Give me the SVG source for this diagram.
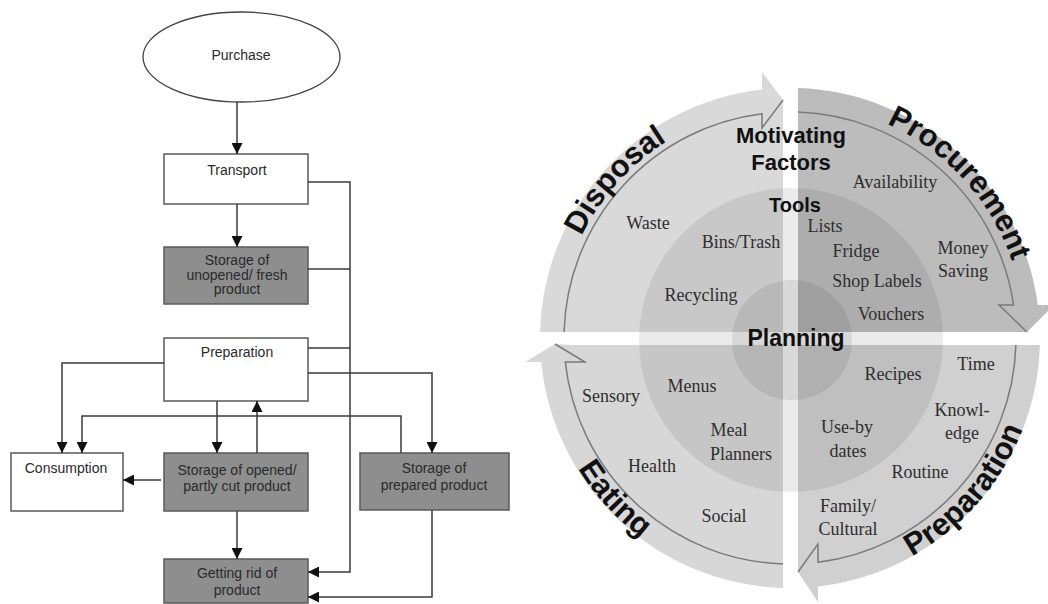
<svg xmlns="http://www.w3.org/2000/svg" width="1048" height="604" viewBox="0 0 1048 604">
<style>
.box{stroke:#5a5a5a;stroke-width:1.5}
.w{fill:#fff}
.g{fill:#8e8e8e}
.ft{font-family:"Liberation Sans",Arial,sans-serif;font-size:14px;fill:#2a2a2a;text-anchor:middle}
.ln{fill:none;stroke:#3a3a3a;stroke-width:1.5}
.lab{font-family:"Liberation Serif","Times New Roman",serif;font-size:18px;fill:#2e2e2e;text-anchor:middle}
.bold{font-family:"Liberation Sans",Arial,sans-serif;font-weight:bold;fill:#111;text-anchor:middle}
.big{font-family:"Liberation Sans",Arial,sans-serif;font-weight:bold;font-size:31px;fill:#111}
.edge{fill:none;stroke:#7a7a7a;stroke-width:1.5}
.ov{fill:#000;fill-opacity:0.08}
</style>
<defs>
<marker id="ah" markerUnits="userSpaceOnUse" markerWidth="11" markerHeight="11" refX="11" refY="5.5" orient="auto">
<path d="M0,0 L11,5.5 L0,11 Z" fill="#111"/>
</marker>
<path id="pDisp" d="M558,338 A232,232 0 0 1 790,106"/>
<path id="pProc" d="M790,103 A235,235 0 0 1 1025,338"/>
<path id="pEat" d="M541,338 A249,249 0 0 0 790,587"/>
<path id="pPrep" d="M790,588 A250,250 0 0 0 1040,338"/>
</defs>
<rect width="1048" height="604" fill="#fff"/>

<!-- Flowchart nodes -->
<g id="purchase">
<ellipse cx="241.5" cy="57" rx="98.5" ry="45" class="w" stroke="#444" stroke-width="1.3"/>
<text x="241" y="60" class="ft">Purchase</text>
</g>
<g id="transport">
<rect x="164" y="154" width="144" height="50" class="w box"/>
<text x="237" y="175" class="ft">Transport</text>
</g>
<g id="storage-unopened">
<rect x="164" y="247" width="144" height="57" class="g box"/>
<text x="237" y="265" class="ft">Storage of</text>
<text x="237" y="280" class="ft">unopened/ fresh</text>
<text x="237" y="294" class="ft">product</text>
</g>
<g id="preparation">
<rect x="164" y="338" width="144" height="63" class="w box"/>
<text x="237" y="357" class="ft">Preparation</text>
</g>
<g id="consumption">
<rect x="11" y="453" width="112" height="58" class="w box"/>
<text x="66" y="473" class="ft">Consumption</text>
</g>
<g id="storage-opened">
<rect x="164" y="453" width="144" height="58" class="g box"/>
<text x="237" y="475" class="ft">Storage of opened/</text>
<text x="237" y="491" class="ft">partly cut product</text>
</g>
<g id="storage-prepared">
<rect x="360" y="453" width="149" height="57" class="g box"/>
<text x="434" y="473" class="ft">Storage of</text>
<text x="434" y="490" class="ft">prepared product</text>
</g>
<g id="getting-rid">
<rect x="164" y="559" width="144" height="44" class="g box"/>
<text x="237" y="578" class="ft">Getting rid of</text>
<text x="237" y="595" class="ft">product</text>
</g>

<!-- Flowchart connectors -->
<g id="connectors">
<path class="ln" d="M237,102 L237,154" marker-end="url(#ah)"/>
<path class="ln" d="M237,204 L237,247" marker-end="url(#ah)"/>
<path class="ln" d="M308,182 L350,182 L350,572 L308,572" marker-end="url(#ah)"/>
<path class="ln" d="M308,269 L350,269"/>
<path class="ln" d="M308,348 L350,348"/>
<path class="ln" d="M308,373 L432,373 L432,453" marker-end="url(#ah)"/>
<path class="ln" d="M164,363 L62,363 L62,453" marker-end="url(#ah)"/>
<path class="ln" d="M217,401 L217,453" marker-end="url(#ah)"/>
<path class="ln" d="M257,453 L257,401" marker-end="url(#ah)"/>
<path class="ln" d="M401,453 L401,416 L82,416 L82,453" marker-end="url(#ah)"/>
<path class="ln" d="M161,480 L123,480" marker-end="url(#ah)"/>
<path class="ln" d="M237,511 L237,559" marker-end="url(#ah)"/>
<path class="ln" d="M432,510 L432,597 L308,597" marker-end="url(#ah)"/>
</g>

<!-- Circular diagram -->
<g id="disposal">
<path d="M783,332 L540.1,332 A250,250 0 0 1 762,89.6 L762,72 L783,100 Z" fill="#d9d9d9"/>
<path class="edge" d="M564.1,332 A226,226 0 0 1 762,113.7 L762,128 L783,100"/>
</g>
<g id="procurement">
<path d="M798,332 L798,88.1 A250,250 0 0 1 1037.8,305 L1054,305 L1027,332 Z" fill="#bcbcbc"/>
<path class="edge" d="M798,112.1 A226,226 0 0 1 1013.6,305 L999,305 L1027,332"/>
</g>
<g id="preparation-q">
<path d="M798,345 L1039.9,345 A250,250 0 0 1 818,586.4 L818,602 L798,572 Z" fill="#d0d0d0"/>
<path class="edge" d="M1015.9,345 A226,226 0 0 1 818,562.3 L818,544 L798,572"/>
</g>
<g id="eating">
<path d="M783,345 L783,587.9 A250,250 0 0 1 541.2,362 L525,362 L555,344 L570,345 Z" fill="#d7d7d7"/>
<path class="edge" d="M783,563.9 A226,226 0 0 1 565.3,362 L585,362 L555,344"/>
</g>
<g id="tools-circle">
<circle cx="791" cy="340" r="152" class="ov"/>
</g>
<g id="planning-circle">
<circle cx="792" cy="340" r="60" class="ov"/>
</g>

<g id="titles">
<text class="big"><textPath href="#pDisp" startOffset="46.7%" text-anchor="middle">Disposal</textPath></text>
<text class="big"><textPath href="#pProc" startOffset="52.9%" text-anchor="middle">Procurement</textPath></text>
<text class="big"><textPath href="#pEat" startOffset="47.2%" text-anchor="middle">Eating</textPath></text>
<text class="big"><textPath href="#pPrep" startOffset="54.4%" text-anchor="middle">Preparation</textPath></text>
</g>

<g id="centre-labels">
<text x="791" y="143" class="bold" font-size="22">Motivating</text>
<text x="791" y="170" class="bold" font-size="22">Factors</text>
<text x="795" y="212" class="bold" font-size="20">Tools</text>
<text x="796" y="346" class="bold" font-size="23">Planning</text>
</g>

<g id="labels">
<text x="648" y="229" class="lab">Waste</text>
<text x="741" y="248" class="lab">Bins/Trash</text>
<text x="701" y="301" class="lab">Recycling</text>
<text x="895" y="188" class="lab">Availability</text>
<text x="825" y="232" class="lab">Lists</text>
<text x="856" y="257" class="lab">Fridge</text>
<text x="877" y="287" class="lab">Shop Labels</text>
<text x="891" y="320" class="lab">Vouchers</text>
<text x="963" y="254" class="lab">Money</text>
<text x="963" y="277" class="lab">Saving</text>
<text x="611" y="402" class="lab">Sensory</text>
<text x="692" y="392" class="lab">Menus</text>
<text x="729" y="436" class="lab">Meal</text>
<text x="741" y="460" class="lab">Planners</text>
<text x="652" y="472" class="lab">Health</text>
<text x="724" y="522" class="lab">Social</text>
<text x="976" y="370" class="lab">Time</text>
<text x="893" y="380" class="lab">Recipes</text>
<text x="962" y="416" class="lab">Knowl-</text>
<text x="962" y="439" class="lab">edge</text>
<text x="847" y="433" class="lab">Use-by</text>
<text x="848" y="457" class="lab">dates</text>
<text x="920" y="478" class="lab">Routine</text>
<text x="848" y="512" class="lab">Family/</text>
<text x="848" y="535" class="lab">Cultural</text>
</g>
</svg>
